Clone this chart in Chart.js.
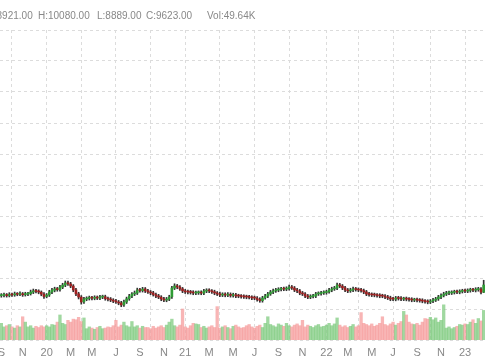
<!DOCTYPE html>
<html>
<head>
<meta charset="utf-8">
<script src="https://cdn.jsdelivr.net/npm/chart.js@4.4.0/dist/chart.umd.min.js"></script>
<style>
  html, body { margin: 0; padding: 0; background: #fff; }
  canvas { display: block; }
</style>
</head>
<body>
<canvas id="chart" width="485" height="360"></canvas>
<script>
// weekly bars, first one is the week ending Fri 6 Sep 2019
const firstWeek = [2019, 8, 6];
const monthLetters = ["J", "F", "M", "A", "M", "J", "J", "A", "S", "O", "N", "D"];

const opens = [
  8590, 8630, 8660, 8610, 8690, 8670, 8750, 8730, 8770, 8690,
  8740, 8780, 8940, 9060, 8990, 8930, 8730, 8520, 8660, 8940,
  9120, 9250, 9170, 9410, 9610, 9830, 9730, 9520, 9150, 8770,
  8450, 7990, 8260, 8330, 8380, 8340, 8420, 8350, 8450, 8490,
  8300, 8260, 8160, 8080, 7980, 7890, 7700, 7970, 8290, 8550,
  8760, 8840, 9150, 9080, 9240, 9060, 8940, 8860, 8690, 8570,
  8450, 8280, 8160, 8250, 8480, 9320, 9540, 9420, 9250, 9040,
  8970, 8930, 8910, 8840, 8870, 8900, 8830, 9030, 9100, 9040,
  8970, 8840, 8770, 8650, 8710, 8640, 8720, 8600, 8670, 8570,
  8540, 8520, 8480, 8450, 8430, 8380, 8350, 8230, 8110, 8380,
  8550, 8760, 8940, 9060, 9130, 9200, 9250, 9220, 9280, 9440,
  9330, 9150, 9040, 8860, 8750, 8570, 8450, 8520, 8550, 8760,
  8790, 8860, 8890, 8960, 9130, 9250, 9320, 9630, 9520, 9350,
  9130, 9060, 9140, 9250, 9180, 9150, 9080, 8960, 8740, 8710,
  8670, 8640, 8610, 8570, 8540, 8470, 8380, 8280, 8250, 8370,
  8330, 8260, 8290, 8250, 8230, 8160, 8190, 8150, 8130, 8060,
  8030, 7970, 8080, 8160, 8280, 8450, 8620, 8740, 8860, 8850,
  8910, 8960, 8930, 9000, 9060, 9030, 9100, 9150, 9120, 9180,
  9230, 8921
];
const highs = [
  8790, 8830, 8800, 8880, 8830, 8940, 8890, 8960, 8900, 8920,
  8920, 9130, 9230, 9200, 9160, 9050, 8880, 8800, 9110, 9290,
  9410, 9390, 9590, 9790, 10010, 9990, 9880, 9660, 9310, 8920,
  8600, 8440, 8480, 8550, 8530, 8580, 8560, 8630, 8640, 8640,
  8460, 8410, 8300, 8240, 8130, 8040, 8160, 8450, 8720, 8900,
  9040, 9320, 9310, 9400, 9380, 9210, 9090, 9010, 8840, 8720,
  8590, 8430, 8420, 8630, 9500, 9740, 9680, 9570, 9390, 9200,
  9130, 9100, 9070, 9040, 9050, 9060, 9200, 9260, 9260, 9180,
  9120, 8990, 8930, 8870, 8870, 8880, 8860, 8830, 8810, 8730,
  8700, 8680, 8640, 8620, 8580, 8550, 8500, 8390, 8530, 8720,
  8910, 9100, 9220, 9300, 9360, 9400, 9420, 9450, 9610, 9580,
  9480, 9290, 9190, 9000, 8900, 8710, 8680, 8720, 8910, 8960,
  9020, 9060, 9120, 9290, 9410, 9490, 9800, 9780, 9670, 9490,
  9290, 9310, 9410, 9390, 9340, 9300, 9230, 9100, 8910, 8860,
  8840, 8800, 8780, 8730, 8700, 8620, 8540, 8440, 8520, 8530,
  8490, 8440, 8460, 8410, 8390, 8340, 8360, 8310, 8290, 8220,
  8190, 8220, 8340, 8430, 8620, 8760, 8920, 9010, 9030, 9060,
  9120, 9120, 9160, 9210, 9230, 9250, 9310, 9310, 9360, 9400,
  9380, 10080
];
const lows = [
  8440, 8460, 8450, 8470, 8510, 8530, 8580, 8590, 8520, 8550,
  8590, 8650, 8790, 8850, 8770, 8580, 8330, 8380, 8510, 8790,
  8960, 9020, 9020, 9270, 9460, 9580, 9360, 8970, 8590, 8270,
  7770, 7830, 8100, 8170, 8190, 8190, 8210, 8200, 8300, 8150,
  8080, 8010, 7910, 7830, 7710, 7520, 7550, 7830, 8140, 8400,
  8600, 8700, 8920, 8940, 8890, 8800, 8680, 8550, 8390, 8300,
  8100, 8000, 8000, 8110, 8330, 9180, 9260, 9090, 8880, 8800,
  8770, 8740, 8680, 8690, 8710, 8680, 8680, 8880, 8880, 8800,
  8680, 8600, 8490, 8500, 8480, 8490, 8450, 8450, 8400, 8390,
  8350, 8320, 8290, 8270, 8200, 8200, 8050, 7950, 7960, 8240,
  8400, 8620, 8790, 8910, 8970, 9050, 9070, 9070, 9130, 9190,
  8980, 8890, 8680, 8600, 8390, 8300, 8300, 8370, 8400, 8610,
  8630, 8710, 8730, 8820, 8970, 9100, 9170, 9370, 9170, 8980,
  8880, 8910, 8980, 9030, 8970, 8930, 8780, 8590, 8530, 8500,
  8480, 8440, 8390, 8390, 8290, 8210, 8100, 8100, 8090, 8160,
  8100, 8110, 8090, 8060, 8000, 8010, 7990, 7960, 7900, 7860,
  7800, 7820, 7920, 8020, 8130, 8310, 8470, 8600, 8690, 8700,
  8750, 8780, 8770, 8850, 8870, 8880, 8930, 8970, 8950, 9020,
  8770, 8889
];
const closes = [
  8620, 8650, 8600, 8700, 8660, 8760, 8720, 8780, 8680, 8750,
  8770, 8950, 9050, 9000, 8940, 8740, 8510, 8650, 8950, 9130,
  9240, 9180, 9420, 9620, 9820, 9740, 9530, 9140, 8760, 8460,
  7980, 8270, 8320, 8370, 8350, 8410, 8360, 8460, 8480, 8310,
  8250, 8170, 8070, 7990, 7880, 7690, 7980, 8280, 8560, 8750,
  8850, 9140, 9090, 9230, 9050, 8950, 8850, 8700, 8560, 8460,
  8270, 8170, 8260, 8470, 9330, 9530, 9430, 9240, 9050, 8960,
  8940, 8900, 8850, 8860, 8890, 8840, 9040, 9090, 9050, 8960,
  8850, 8760, 8660, 8700, 8650, 8710, 8610, 8660, 8560, 8550,
  8510, 8470, 8460, 8420, 8370, 8360, 8220, 8120, 8370, 8560,
  8750, 8950, 9050, 9140, 9190, 9240, 9230, 9290, 9430, 9340,
  9140, 9050, 8850, 8760, 8560, 8460, 8510, 8560, 8750, 8800,
  8850, 8900, 8950, 9140, 9240, 9330, 9620, 9530, 9340, 9140,
  9050, 9150, 9240, 9190, 9140, 9090, 8950, 8750, 8700, 8660,
  8650, 8600, 8560, 8550, 8460, 8370, 8270, 8260, 8360, 8320,
  8270, 8280, 8260, 8220, 8170, 8180, 8160, 8120, 8070, 8020,
  7980, 8070, 8170, 8270, 8460, 8610, 8750, 8850, 8860, 8900,
  8950, 8940, 8990, 9050, 9040, 9090, 9140, 9130, 9190, 9240,
  8930, 9623
];
// volume in thousands
const volumes = [
  28, 22, 24, 26, 22, 20, 24, 22, 39, 30,
  22, 24, 20, 23, 21, 24, 22, 24, 22, 26,
  25, 30, 42, 28, 26, 33, 30, 35, 34, 38,
  31, 37, 19, 22, 20, 18, 21, 23, 19, 20,
  22, 21, 24, 33, 22, 25, 30, 24, 22, 31,
  22, 24, 20, 23, 21, 21, 19, 23, 20, 22,
  24, 21, 25, 30, 35, 24, 22, 25, 52, 22,
  20, 24, 28, 27, 26, 21, 23, 20, 22, 24,
  21, 56, 20, 22, 24, 21, 19, 23, 25, 22,
  20, 21, 24, 26, 22, 20, 23, 25, 21, 28,
  39, 26, 24, 22, 27, 25, 23, 28, 24, 22,
  25, 27, 24, 33, 22, 25, 23, 21, 24, 26,
  22, 23, 25, 28, 24, 27, 37, 25, 22, 24,
  21, 23, 26, 22, 24, 46, 28, 26, 24, 27,
  23, 25, 28, 39, 26, 24, 27, 30, 25, 28,
  31, 48, 42, 30, 27, 26, 28, 25, 30, 36,
  35, 38, 34, 37, 30, 33, 59, 20, 22, 19,
  21, 23, 26, 25, 27, 26, 30, 34, 28, 36,
  32, 49.64
];

const weeks = opens.map((_, i) => new Date(Date.UTC(firstWeek[0], firstWeek[1], firstWeek[2] + 7 * i)));
const labels = weeks.map((d) => d.toISOString().slice(0, 10));
const up = closes.map((c, i) => c >= opens[i]);

// month of this bar differs from the bar before it
function monthStart(i) {
  const d = weeks[i];
  const prev = new Date(d.getTime() - 7 * 864e5);
  return d.getUTCMonth() !== prev.getUTCMonth();
}
function tickText(i) {
  if (!monthStart(i)) return "";
  const m = weeks[i].getUTCMonth();
  if (m % 2) return "";
  return m === 0 ? String(weeks[i].getUTCFullYear()).slice(2) : monthLetters[m];
}

const last = opens.length - 1;
const header = [
  ["O:" + opens[last].toFixed(2), -14],
  ["H:" + highs[last].toFixed(2), 38],
  ["L:" + lows[last].toFixed(2), 97],
  ["C:" + closes[last].toFixed(2), 146],
  ["Vol:" + volumes[last].toFixed(2) + "K", 207],
];

const headerPlugin = {
  id: "header",
  afterDraw(chart) {
    const ctx = chart.ctx;
    ctx.save();
    ctx.font = "10px 'Liberation Sans', Arial, sans-serif";
    ctx.fillStyle = "#888";
    ctx.textBaseline = "middle";
    header.forEach(([t, x]) => ctx.fillText(t, x, 16));
    ctx.restore();
  },
};

const gridColor = "#dcdcdc";

new Chart(document.getElementById("chart"), {
  type: "bar",
  data: {
    labels: labels,
    datasets: [
      {
        label: "Body",
        data: opens.map((o, i) => [o, closes[i]]),
        backgroundColor: up.map((u) => (u ? "#2f9b34" : "#9e1f1f")),
        barThickness: 2,
        minBarLength: 1,
        grouped: false,
        order: 1,
        yAxisID: "y",
      },
      {
        label: "Wick",
        data: lows.map((l, i) => [l, highs[i]]),
        backgroundColor: "#333",
        barThickness: 1,
        grouped: false,
        order: 2,
        yAxisID: "y",
      },
      {
        label: "Vol",
        data: volumes,
        backgroundColor: up.map((u) => (u ? "rgba(120,200,120,0.7)" : "rgba(245,150,150,0.7)")),
        barPercentage: 1,
        categoryPercentage: 1,
        grouped: false,
        order: 3,
        yAxisID: "y2",
      },
    ],
  },
  options: {
    responsive: false,
    animation: false,
    events: [],
    layout: { padding: { top: 30, left: -2, right: 0, bottom: 0 } },
    plugins: { legend: { display: false }, tooltip: { enabled: false } },
    scales: {
      x: {
        grid: {
          offset: false,
          drawTicks: false,
          color: (c) => (c.index !== undefined && monthStart(c.index) && weeks[c.index].getUTCMonth() % 3 === 0 ? gridColor : "rgba(0,0,0,0)"),
        },
        border: { display: false, dash: [3, 3] },
        ticks: {
          autoSkip: false,
          maxRotation: 0,
          padding: 6,
          color: "#888",
          font: { family: "'Liberation Sans', Arial, sans-serif", size: 11 },
          callback: (v, i) => tickText(i),
        },
        afterFit: (s) => { s.paddingLeft = 0; s.paddingRight = 0; s.height = 20; },
      },
      y: {
        position: "left",
        min: 4300,
        max: 34300,
        ticks: { display: false, stepSize: 3000 },
        grid: { color: gridColor, drawTicks: false },
        border: { display: false, dash: [3, 3] },
        afterFit: (s) => { s.width = 0; },
      },
      y2: {
        display: false,
        min: 0,
        max: 520,
      },
    },
  },
  plugins: [headerPlugin],
});
</script>
</body>
</html>
